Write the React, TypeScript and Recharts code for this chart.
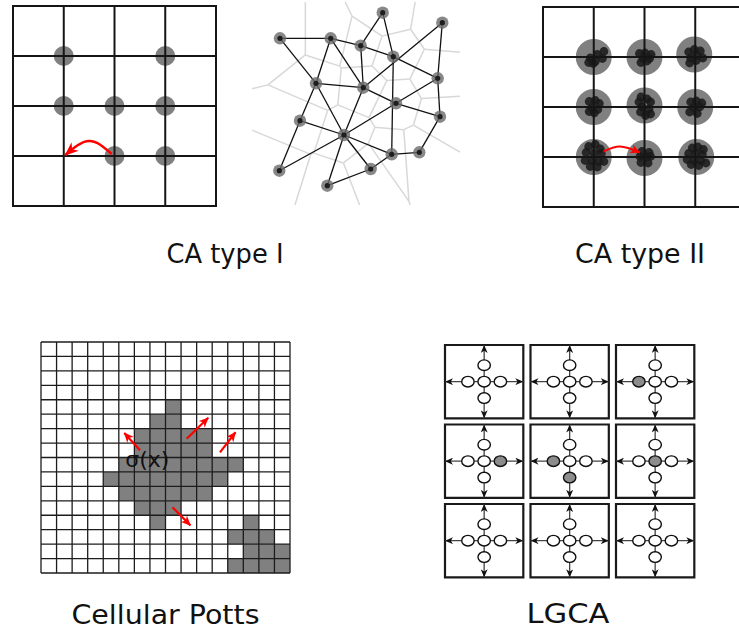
import React from 'react';
import { ComposedChart, XAxis, YAxis, ReferenceLine, ReferenceArea, Scatter, Line } from 'recharts';

// ---------------- CA type I (lattice sites, grid units) ----------------
const CA1_GRID = [0, 1, 2, 3, 4];
const CA1_SITES = [
  { x: 1, y: 1 }, { x: 3, y: 1 },
  { x: 1, y: 2 }, { x: 2, y: 2 }, { x: 3, y: 2 },
  { x: 2, y: 3 }, { x: 3, y: 3 },
];
const CA1_JUMP = [{ x: 1.945, y: 2.96 }, { x: 1.5, y: 2.7 }, { x: 1.03, y: 2.98 }];

// ---------------- off-lattice network (page px) ----------------
const NET_NODES = [
  { x: 280, y: 38.3 }, { x: 330.7, y: 38.3 }, { x: 382.7, y: 12.7 }, { x: 442.3, y: 22.7 },
  { x: 360.7, y: 45.7 }, { x: 393.3, y: 56.7 }, { x: 316, y: 83.3 }, { x: 363.3, y: 87.7 },
  { x: 437.7, y: 78.3 }, { x: 396, y: 103.3 }, { x: 300, y: 120.7 }, { x: 440, y: 116.7 },
  { x: 344, y: 135 }, { x: 391.7, y: 154.3 }, { x: 419.3, y: 152.3 }, { x: 279.3, y: 170.7 },
  { x: 370.7, y: 169 }, { x: 327.3, y: 185.7 },
];
const NET_EDGES = [
  [0, 1], [0, 6], [1, 6], [1, 7], [1, 4], [4, 2], [2, 5], [4, 5], [4, 7], [3, 7], [3, 8],
  [5, 8], [5, 13], [6, 7], [6, 10], [6, 12], [7, 9], [7, 12], [8, 9], [9, 12], [9, 11],
  [8, 11], [11, 14], [14, 13], [13, 16], [13, 12], [12, 16], [12, 17], [17, 16], [12, 15],
  [10, 15], [10, 12],
];
const VORONOI_BOX = { x0: 252, x1: 460, y0: 2, y1: 205 };

// ---------------- CA type II (grid units) ----------------
const CA2_GRID_X = [0, 1, 2, 3, 4];
const CA2_GRID_Y = [0, 1, 2, 3, 4];
const CA2_SITES = [
  { x: 1, y: 1 }, { x: 2, y: 1 }, { x: 2.98, y: 0.95 },
  { x: 1, y: 2 }, { x: 2, y: 1.97 }, { x: 3, y: 2 },
  { x: 1, y: 3 }, { x: 2, y: 3.02 }, { x: 3.02, y: 3 },
];
const CA2_CELLS = [
  [[0.2, -0.11], [0.07, -0.05], [-0.07, 0.02], [0.17, 0.03], [0.03, 0.09], [-0.1, 0.11], [-0.01, 0.13]],
  [[-0.1, -0.07], [0.01, -0.08], [0.13, -0.05], [-0.03, 0.03], [0.1, 0.03], [-0.07, 0.11], [0.05, 0.08]],
  [[-0.11, -0.05], [0, -0.1], [0.12, -0.07], [0.05, 0.01], [-0.07, 0.07], [0.17, 0.07], [-0.09, 0.17], [0.04, 0.12]],
  [[-0.09, -0.11], [0.03, -0.13], [0.11, -0.07], [-0.04, 0.02], [0.08, 0.05], [-0.09, 0.09], [0.01, 0.12]],
  [[-0.07, -0.17], [0.05, -0.13], [-0.11, -0.07], [0.12, -0.07], [-0.05, 0.03], [0.09, 0.07], [-0.08, 0.13], [0.12, 0.17], [0.02, 0.2]],
  [[-0.09, -0.1], [0.02, -0.12], [0.13, -0.08], [-0.03, 0.01], [0.09, 0], [-0.11, 0.1], [0.04, 0.13]],
  [[-0.1, -0.21], [0.03, -0.25], [0.13, -0.16], [-0.15, -0.09], [0, -0.07], [0.15, -0.07], [-0.17, 0.07], [-0.03, 0.07], [0.1, 0.09], [-0.07, 0.19], [0.07, 0.2], [0.2, 0.09]],
  [[-0.05, -0.13], [0.09, -0.11], [-0.09, -0.03], [0.04, -0.02], [0.12, -0.03], [-0.07, 0.09], [0.07, 0.1]],
  [[-0.08, -0.18], [0.03, -0.2], [0.14, -0.15], [-0.15, -0.07], [-0.01, -0.07], [0.12, -0.05], [-0.18, 0.05], [-0.05, 0.07], [0.09, 0.07], [-0.1, 0.15], [0.05, 0.17], [0.19, 0.12]],
];
const CA2_JUMP = [{ x: 1.19, y: 2.89 }, { x: 1.52, y: 2.79 }, { x: 1.91, y: 2.91 }];

// ---------------- Cellular Potts (16 x 16 lattice) ----------------
const POTTS_N = 16;
// [row, first column, last column]
const POTTS_RUNS = [
  [4, 8, 8], [5, 7, 8], [6, 6, 10], [7, 6, 10], [8, 5, 12], [9, 4, 11], [10, 5, 10],
  [11, 6, 8], [12, 7, 7], [12, 13, 13], [13, 12, 14], [14, 13, 15], [15, 12, 15],
];
const POTTS_ARROWS = [
  [{ x: 6.36, y: 7.5 }, { x: 5.35, y: 6.3 }],
  [{ x: 9.36, y: 6.7 }, { x: 10.75, y: 5.25 }],
  [{ x: 11.5, y: 7.65 }, { x: 12.5, y: 6.25 }],
  [{ x: 8.45, y: 11.45 }, { x: 9.6, y: 12.7 }],
];
const POTTS_LABEL = [{ x: 6.83, y: 8.64, text: 'σ(x)' }];

// ---------------- LGCA (3 x 3 nodes, channels: centre, left, right, up, down) ----------------
const LGCA_STATE = [
  ['00000', '00000', '01000'],
  ['00100', '01001', '10000'],
  ['00000', '00000', '00000'],
];

// ---------------- captions ----------------
const CAPTIONS = [
  { text: 'CA type I', x: 166.5, y: 263.3, len: 117 },
  { text: 'CA type II', x: 575, y: 263.3, len: 130 },
  { text: 'Cellular Potts', x: 71.5, y: 624.3, len: 188 },
  { text: 'LGCA', x: 526.5, y: 623.3, len: 83 },
];

// ---------- helpers ----------
type Pt = { x: number; y: number };
function clipHalf(poly: Pt[], p: Pt, q: Pt): Pt[] {
  const dx = q.x - p.x, dy = q.y - p.y, mx = (p.x + q.x) / 2, my = (p.y + q.y) / 2;
  const f = (a: Pt) => (a.x - mx) * dx + (a.y - my) * dy;
  const out: Pt[] = [];
  for (let i = 0; i < poly.length; i++) {
    const a = poly[i], b = poly[(i + 1) % poly.length];
    const fa = f(a), fb = f(b);
    if (fa <= 0) out.push(a);
    if ((fa < 0 && fb > 0) || (fa > 0 && fb < 0)) {
      const t = fa / (fa - fb);
      out.push({ x: a.x + t * (b.x - a.x), y: a.y + t * (b.y - a.y) });
    }
  }
  return out;
}
function voronoiEdges(nodes: Pt[], box: typeof VORONOI_BOX) {
  const edges: Pt[][] = [];
  const seen = new Set<string>();
  const onSide = (a: Pt, b: Pt) =>
    (Math.abs(a.x - box.x0) < 1e-6 && Math.abs(b.x - box.x0) < 1e-6) ||
    (Math.abs(a.x - box.x1) < 1e-6 && Math.abs(b.x - box.x1) < 1e-6) ||
    (Math.abs(a.y - box.y0) < 1e-6 && Math.abs(b.y - box.y0) < 1e-6) ||
    (Math.abs(a.y - box.y1) < 1e-6 && Math.abs(b.y - box.y1) < 1e-6);
  nodes.forEach((p, i) => {
    let poly: Pt[] = [
      { x: box.x0, y: box.y0 }, { x: box.x1, y: box.y0 },
      { x: box.x1, y: box.y1 }, { x: box.x0, y: box.y1 },
    ];
    nodes.forEach((q, j) => { if (i !== j) poly = clipHalf(poly, p, q); });
    for (let k = 0; k < poly.length; k++) {
      const a = poly[k], b = poly[(k + 1) % poly.length];
      if (onSide(a, b)) continue;
      if (Math.hypot(a.x - b.x, a.y - b.y) < 0.3) continue;
      const ka = `${a.x.toFixed(1)},${a.y.toFixed(1)}`, kb = `${b.x.toFixed(1)},${b.y.toFixed(1)}`;
      const key = ka < kb ? ka + '|' + kb : kb + '|' + ka;
      if (seen.has(key)) continue;
      seen.add(key);
      edges.push([a, b]);
    }
  });
  return edges;
}

function Panel({ left, top, width, height, xDomain, yDomain, margin = 1, children }: any) {
  return (
    <div style={{ position: 'absolute', left, top }}>
      <ComposedChart width={width} height={height} margin={{ top: margin, right: margin, bottom: margin, left: margin }}>
        <XAxis type="number" dataKey="x" domain={xDomain} hide allowDataOverflow />
        <YAxis type="number" dataKey="y" domain={yDomain} reversed hide allowDataOverflow />
        {children}
      </ComposedChart>
    </div>
  );
}

const GREY = '#808080';

export default function App() {
  const voro = voronoiEdges(NET_NODES, VORONOI_BOX);
  const blobs = CA2_SITES.flatMap((s, i) => CA2_CELLS[i].map(([dx, dy]) => ({ x: s.x + dx, y: s.y + dy })));

  const BOX_W = 0.916, BOX_H = 0.922, DX = 0.19, DY = 0.207;
  const lgcaBoxes: { i: number; j: number; cx: number; cy: number }[] = [];
  LGCA_STATE.forEach((row, j) => row.forEach((_, i) => lgcaBoxes.push({ i, j, cx: i + BOX_W / 2, cy: j + BOX_H / 2 })));
  const lgcaParticles = lgcaBoxes.flatMap((b) => {
    const s = LGCA_STATE[b.j][b.i];
    const offs = [[0, 0], [-DX, 0], [DX, 0], [0, -DY], [0, DY]];
    return offs.map(([ox, oy], k) => ({ x: b.cx + ox, y: b.cy + oy, on: s[k] === '1' }));
  });

  let z = 1;
  const nz = () => z++;

  return (
    <div style={{ position: 'absolute', left: 0, top: 0, width: 739, height: 635, overflow: 'hidden', background: '#fff' }}>
      <svg width={0} height={0} style={{ position: 'absolute' }}>
        <defs>
          <marker id="redHead" markerUnits="userSpaceOnUse" viewBox="0 0 14 11" markerWidth={14} markerHeight={11} refX={13} refY={5.5} orient="auto">
            <path d="M0,0 L14,5.5 L0,11 L4,5.5 Z" fill="#f00" />
          </marker>
          <marker id="redSmall" markerUnits="userSpaceOnUse" viewBox="0 0 10 9" markerWidth={10} markerHeight={9} refX={9.5} refY={4.5} orient="auto">
            <path d="M0,0 L10,4.5 L0,9 L3,4.5 Z" fill="#f00" />
          </marker>
          <marker id="blackHead" markerUnits="userSpaceOnUse" viewBox="0 0 8 7" markerWidth={8} markerHeight={7} refX={8} refY={3.5} orient="auto">
            <path d="M0,0 L8,3.5 L0,7 L2.2,3.5 Z" fill="#111" />
          </marker>
        </defs>
      </svg>

      {/* CA type I */}
      <Panel left={12} top={5} width={205} height={202} xDomain={[0, 4]} yDomain={[0, 4]}>
        <Scatter data={CA1_SITES} isAnimationActive={false} zIndex={nz()}
          shape={(p: any) => <circle cx={p.cx} cy={p.cy} r={10} fill={GREY} />} />
        {CA1_GRID.map((v) => (
          <ReferenceLine key={'vx' + v} x={v} stroke="#151515" strokeWidth={2} strokeLinecap="square" zIndex={nz()} />
        ))}
        {CA1_GRID.map((v) => (
          <ReferenceLine key={'hy' + v} y={v} stroke="#151515" strokeWidth={2} strokeLinecap="square" zIndex={nz()} />
        ))}
        <Line data={CA1_JUMP} dataKey="y" type="natural" stroke="#f00" strokeWidth={2.5} dot={false} activeDot={false}
          isAnimationActive={false} markerEnd="url(#redHead)" zIndex={nz()} />
      </Panel>

      {/* off-lattice network */}
      <Panel left={245} top={0} width={220} height={212} xDomain={[245, 465]} yDomain={[0, 212]} margin={0}>
        {voro.map((e, k) => (
          <ReferenceLine key={'v' + k} segment={e} stroke="#d8d8d8" strokeWidth={1.5} zIndex={nz()} />
        ))}
        {NET_EDGES.map(([a, b], k) => (
          <ReferenceLine key={'e' + k} segment={[NET_NODES[a], NET_NODES[b]]} stroke="#111" strokeWidth={1.3} zIndex={nz()} />
        ))}
        <Scatter data={NET_NODES} isAnimationActive={false} zIndex={nz()}
          shape={(p: any) => (
            <g>
              <circle cx={p.cx} cy={p.cy} r={6.2} fill="#6a6a6a" fillOpacity={0.8} />
              <circle cx={p.cx} cy={p.cy} r={2.6} fill="#1e1e1e" />
            </g>
          )} />
      </Panel>

      {/* CA type II */}
      <Panel left={542} top={6} width={205} height={202} xDomain={[0, 4]} yDomain={[0, 4]}>
        <Scatter data={CA2_SITES} isAnimationActive={false} zIndex={nz()}
          shape={(p: any) => <circle cx={p.cx} cy={p.cy} r={18} fill={GREY} />} />
        <Scatter data={blobs} isAnimationActive={false} zIndex={nz()}
          shape={(p: any) => <circle cx={p.cx} cy={p.cy} r={4.4} fill="#1a1a1a" fillOpacity={0.88} />} />
        {CA2_GRID_X.map((v) => (
          <ReferenceLine key={'cx' + v} x={v} stroke="#151515" strokeWidth={2} strokeLinecap="square" zIndex={nz()} />
        ))}
        {CA2_GRID_Y.map((v) => (
          <ReferenceLine key={'cy' + v} y={v} stroke="#151515" strokeWidth={2} strokeLinecap="square" zIndex={nz()} />
        ))}
        <Line data={CA2_JUMP} dataKey="y" type="natural" stroke="#f00" strokeWidth={2.2} dot={false} activeDot={false}
          isAnimationActive={false} markerEnd="url(#redSmall)" zIndex={nz()} />
      </Panel>

      {/* Cellular Potts */}
      <Panel left={40} top={341} width={251} height={233} xDomain={[0, POTTS_N]} yDomain={[0, POTTS_N]}>
        {POTTS_RUNS.map(([r, c0, c1], k) => (
          <ReferenceArea key={'pa' + k} x1={c0} x2={c1 + 1} y1={r} y2={r + 1} fill={GREY} fillOpacity={1} stroke="none" zIndex={nz()} />
        ))}
        {Array.from({ length: POTTS_N + 1 }, (_, v) => (
          <ReferenceLine key={'px' + v} x={v} stroke="#1c1c1c" strokeWidth={1.3} zIndex={nz()} />
        ))}
        {Array.from({ length: POTTS_N + 1 }, (_, v) => (
          <ReferenceLine key={'py' + v} y={v} stroke="#1c1c1c" strokeWidth={1.3} zIndex={nz()} />
        ))}
        <Scatter data={POTTS_LABEL} isAnimationActive={false} zIndex={nz()}
          shape={(p: any) => (
            <text x={p.cx} y={p.cy} textAnchor="middle" fontSize={22} fontFamily="DejaVu Sans" fill="#111">
              {(p.payload && p.payload.text) || POTTS_LABEL[0].text}
            </text>
          )} />
        {POTTS_ARROWS.map((seg, k) => (
          <Line key={'ar' + k} data={seg} dataKey="y" type="linear" stroke="#f00" strokeWidth={2.2} dot={false} activeDot={false}
            isAnimationActive={false} markerEnd="url(#redSmall)" zIndex={nz()} />
        ))}
      </Panel>

      {/* LGCA */}
      <Panel left={443} top={343} width={260.5} height={242.5} xDomain={[0, 3]} yDomain={[0, 3]} margin={2}>
        {lgcaBoxes.map((b, k) => (
          <ReferenceArea key={'b' + k} x1={b.i} x2={b.i + BOX_W} y1={b.j} y2={b.j + BOX_H}
            fill="#fff" fillOpacity={1} stroke="#1a1a1a" strokeWidth={2.2} zIndex={nz()} />
        ))}
        {lgcaBoxes.flatMap((b, k) => [
          [{ x: b.cx, y: b.cy }, { x: b.i, y: b.cy }],
          [{ x: b.cx, y: b.cy }, { x: b.i + BOX_W, y: b.cy }],
          [{ x: b.cx, y: b.cy }, { x: b.cx, y: b.j }],
          [{ x: b.cx, y: b.cy }, { x: b.cx, y: b.j + BOX_H }],
        ].map((seg, m) => (
          <ReferenceLine key={'l' + k + '-' + m} segment={seg} stroke="#444" strokeWidth={1.3}
            markerEnd="url(#blackHead)" zIndex={nz()} />
        )))}
        <Scatter data={lgcaParticles} isAnimationActive={false} zIndex={nz()}
          shape={(p: any) => (
            <ellipse cx={p.cx} cy={p.cy} rx={6.2} ry={5.3} fill={p.payload && p.payload.on ? '#8c8c8c' : '#fff'}
              stroke="#111" strokeWidth={1.4} />
          )} />
      </Panel>

      {/* captions */}
      <svg width={739} height={635} style={{ position: 'absolute', left: 0, top: 0, pointerEvents: 'none' }}>
        {CAPTIONS.map((c) => (
          <text key={c.text} x={c.x} y={c.y} fontSize={26} fontFamily="DejaVu Sans" fill="#111"
            textLength={c.len} lengthAdjust="spacingAndGlyphs">
            {c.text}
          </text>
        ))}
      </svg>
    </div>
  );
}
